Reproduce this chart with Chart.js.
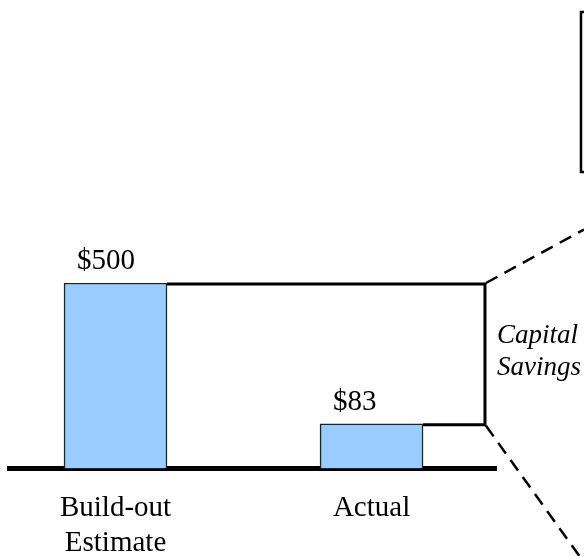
<!DOCTYPE html>
<html>
<head>
<meta charset="utf-8">
<script src="https://cdn.jsdelivr.net/npm/chart.js@4"></script>
<style>
  html, body { margin: 0; padding: 0; background: #fff; overflow: hidden; }
  #wrap { width: 584px; height: 556px; position: relative; }
</style>
</head>
<body>
<div id="wrap"><canvas id="savingsChart"></canvas></div>
<script>
// values
const categories = ['Build-out Estimate', 'Actual'];
const costs = [500, 83];
const savingsLabel = ['Capital', 'Savings'];

const serif = '"Liberation Serif", "Times New Roman", serif';

// bracket + zoom lines + value labels, all hung off the scales
const savingsBracket = {
  id: 'savingsBracket',
  afterDatasetsDraw(chart) {
    const { ctx, scales: { x, y } } = chart;
    const bars = chart.getDatasetMeta(0).data;
    const yHigh = y.getPixelForValue(costs[0]) + 1;
    const yLow = y.getPixelForValue(costs[1]) + 1;
    const bx = x.getPixelForValue(1.443);
    const W = chart.width;

    ctx.save();
    ctx.fillStyle = '#000';
    ctx.font = '29px ' + serif;
    ctx.textAlign = 'left';
    ctx.textBaseline = 'alphabetic';
    bars.forEach((bar, i) => {
      ctx.fillText('$' + costs[i], bar.x - bar.width / 2 + 13, bar.y - 14);
    });

    // solid bracket
    ctx.strokeStyle = '#000';
    ctx.lineWidth = 3;
    ctx.lineJoin = 'miter';
    ctx.beginPath();
    ctx.moveTo(bars[0].x + bars[0].width / 2, yHigh);
    ctx.lineTo(bx, yHigh);
    ctx.lineTo(bx, yLow);
    ctx.lineTo(bars[1].x + bars[1].width / 2, yLow);
    ctx.stroke();

    // dashed lines out to the callout box
    ctx.lineWidth = 2.5;
    ctx.setLineDash([13, 8]);
    ctx.beginPath();
    ctx.moveTo(bx + 1, yHigh - 1);
    ctx.lineTo(W, yHigh - 1 - (W - bx) * 0.54);
    ctx.moveTo(bx + 1, yLow + 1);
    ctx.lineTo(W, yLow + 1 + (W - bx) * 1.38);
    ctx.stroke();
    ctx.setLineDash([]);

    // edge of the callout box, mostly off the slide
    ctx.lineWidth = 2.5;
    ctx.strokeRect(bx + 96, 12, 60, 160);

    // label
    ctx.font = 'italic 27px ' + serif;
    const mid = (yHigh + yLow) / 2;
    ctx.fillText(savingsLabel[0], bx + 12, mid - 11);
    ctx.fillText(savingsLabel[1], bx + 12, mid + 21);
    ctx.restore();
  }
};

const ctx = document.getElementById('savingsChart').getContext('2d');
new Chart(ctx, {
  type: 'bar',
  data: {
    datasets: [{
      data: costs.map((v, i) => ({ x: i, y: v })),
      backgroundColor: '#99ccff',
      borderColor: '#222',
      borderWidth: 1.5,
      barThickness: 103
    }]
  },
  options: {
    responsive: true,
    maintainAspectRatio: false,
    animation: false,
    layout: { padding: { top: 283, left: 9, right: 88, bottom: -28 } },
    plugins: { legend: { display: false }, tooltip: { enabled: false } },
    scales: {
      x: {
        type: 'linear',
        offset: false,
        min: -0.416,
        max: 1.486,
        grid: { display: false, drawTicks: false, offset: false },
        border: { display: true, color: '#000', width: 5 },
        afterBuildTicks: (axis) => { axis.ticks = categories.map((c, i) => ({ value: i })); },
        ticks: {
          color: '#000',
          padding: 23,
          font: { family: serif, size: 29, lineHeight: 1.2 },
          callback: (v) => categories[v] ? categories[v].split(' ') : ''
        }
      },
      y: {
        type: 'logarithmic',
        min: 47,
        max: 500,
        display: false
      }
    }
  },
  plugins: [savingsBracket]
});
</script>
</body>
</html>
